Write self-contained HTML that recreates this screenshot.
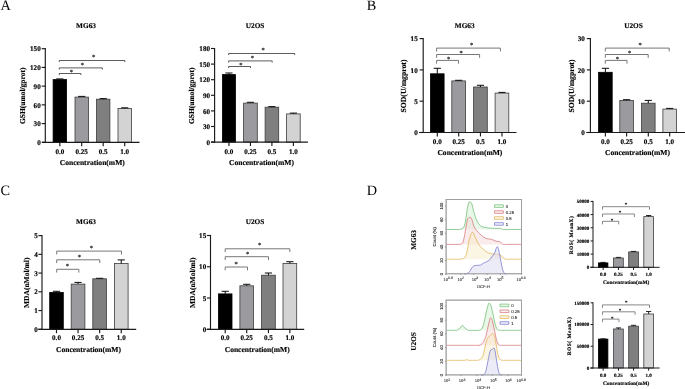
<!DOCTYPE html>
<html lang="en">
<head>
<meta charset="utf-8">
<title>Figure</title>
<style>
html,body{margin:0;padding:0;background:#fff;}
body{width:685px;height:389px;overflow:hidden;}
svg{display:block;filter:blur(0.6px);}
text{text-rendering:geometricPrecision;}
</style>
</head>
<body>
<svg width="685" height="389" viewBox="0 0 685 389">
<rect x="0" y="0" width="685" height="389" fill="#ffffff"/>
<rect x="53.10" y="79.60" width="13.50" height="62.70" fill="#000000" stroke="#000000" stroke-width="0.8"/>
<line x1="59.85" y1="79.60" x2="59.85" y2="78.90" stroke="#111" stroke-width="1.035"/>
<line x1="56.25" y1="78.90" x2="63.45" y2="78.90" stroke="#111" stroke-width="1.035"/>
<rect x="75.00" y="97.10" width="13.40" height="45.20" fill="#9b9a9f" stroke="#3c3c3c" stroke-width="0.8"/>
<line x1="81.70" y1="97.10" x2="81.70" y2="96.40" stroke="#111" stroke-width="1.035"/>
<line x1="78.10" y1="96.40" x2="85.30" y2="96.40" stroke="#111" stroke-width="1.035"/>
<rect x="96.50" y="99.20" width="13.40" height="43.10" fill="#7f7f7f" stroke="#3c3c3c" stroke-width="0.8"/>
<line x1="103.20" y1="99.20" x2="103.20" y2="98.60" stroke="#111" stroke-width="1.035"/>
<line x1="99.60" y1="98.60" x2="106.80" y2="98.60" stroke="#111" stroke-width="1.035"/>
<rect x="118.00" y="108.50" width="13.40" height="33.80" fill="#d3d3d3" stroke="#3c3c3c" stroke-width="0.8"/>
<line x1="124.70" y1="108.50" x2="124.70" y2="107.80" stroke="#111" stroke-width="1.035"/>
<line x1="121.10" y1="107.80" x2="128.30" y2="107.80" stroke="#111" stroke-width="1.035"/>
<line x1="45.30" y1="48.12" x2="45.30" y2="142.88" stroke="#1a1a1a" stroke-width="1.15"/>
<line x1="42.00" y1="142.30" x2="139.50" y2="142.30" stroke="#1a1a1a" stroke-width="1.15"/>
<line x1="41.70" y1="48.70" x2="45.30" y2="48.70" stroke="#1a1a1a" stroke-width="1.15"/>
<text x="40.70" y="51.34" font-family='"Liberation Serif", serif' font-size="7.1" font-weight="bold" text-anchor="end" fill="#000" stroke="#000" stroke-width="0.15">150</text>
<line x1="41.70" y1="67.42" x2="45.30" y2="67.42" stroke="#1a1a1a" stroke-width="1.15"/>
<text x="40.70" y="70.06" font-family='"Liberation Serif", serif' font-size="7.1" font-weight="bold" text-anchor="end" fill="#000" stroke="#000" stroke-width="0.15">120</text>
<line x1="41.70" y1="86.14" x2="45.30" y2="86.14" stroke="#1a1a1a" stroke-width="1.15"/>
<text x="40.70" y="88.78" font-family='"Liberation Serif", serif' font-size="7.1" font-weight="bold" text-anchor="end" fill="#000" stroke="#000" stroke-width="0.15">90</text>
<line x1="41.70" y1="104.86" x2="45.30" y2="104.86" stroke="#1a1a1a" stroke-width="1.15"/>
<text x="40.70" y="107.50" font-family='"Liberation Serif", serif' font-size="7.1" font-weight="bold" text-anchor="end" fill="#000" stroke="#000" stroke-width="0.15">60</text>
<line x1="41.70" y1="123.58" x2="45.30" y2="123.58" stroke="#1a1a1a" stroke-width="1.15"/>
<text x="40.70" y="126.22" font-family='"Liberation Serif", serif' font-size="7.1" font-weight="bold" text-anchor="end" fill="#000" stroke="#000" stroke-width="0.15">30</text>
<line x1="41.70" y1="142.30" x2="45.30" y2="142.30" stroke="#1a1a1a" stroke-width="1.15"/>
<text x="40.70" y="144.94" font-family='"Liberation Serif", serif' font-size="7.1" font-weight="bold" text-anchor="end" fill="#000" stroke="#000" stroke-width="0.15">0</text>
<line x1="59.85" y1="142.30" x2="59.85" y2="146.20" stroke="#1a1a1a" stroke-width="1.15"/>
<text x="59.85" y="153.70" font-family='"Liberation Serif", serif' font-size="7.1" font-weight="bold" text-anchor="middle" fill="#000" stroke="#000" stroke-width="0.15">0.0</text>
<line x1="81.70" y1="142.30" x2="81.70" y2="146.20" stroke="#1a1a1a" stroke-width="1.15"/>
<text x="81.70" y="153.70" font-family='"Liberation Serif", serif' font-size="7.1" font-weight="bold" text-anchor="middle" fill="#000" stroke="#000" stroke-width="0.15">0.25</text>
<line x1="103.20" y1="142.30" x2="103.20" y2="146.20" stroke="#1a1a1a" stroke-width="1.15"/>
<text x="103.20" y="153.70" font-family='"Liberation Serif", serif' font-size="7.1" font-weight="bold" text-anchor="middle" fill="#000" stroke="#000" stroke-width="0.15">0.5</text>
<line x1="124.70" y1="142.30" x2="124.70" y2="146.20" stroke="#1a1a1a" stroke-width="1.15"/>
<text x="124.70" y="153.70" font-family='"Liberation Serif", serif' font-size="7.1" font-weight="bold" text-anchor="middle" fill="#000" stroke="#000" stroke-width="0.15">1.0</text>
<polyline points="59.30,62.10 59.30,60.50 124.90,60.50 124.90,62.10" fill="none" stroke="#333" stroke-width="0.8"/>
<text x="93.70" y="58.92" font-family='"Liberation Serif", serif' font-size="6.5" font-weight="bold" text-anchor="middle" fill="#222" stroke="#222" stroke-width="0.1">*</text>
<polyline points="59.30,69.50 59.30,67.90 102.40,67.90 102.40,69.50" fill="none" stroke="#333" stroke-width="0.8"/>
<text x="82.40" y="67.33" font-family='"Liberation Serif", serif' font-size="6.5" font-weight="bold" text-anchor="middle" fill="#222" stroke="#222" stroke-width="0.1">*</text>
<polyline points="59.30,75.10 59.30,73.50 80.90,73.50 80.90,75.10" fill="none" stroke="#333" stroke-width="0.8"/>
<text x="71.40" y="73.72" font-family='"Liberation Serif", serif' font-size="6.5" font-weight="bold" text-anchor="middle" fill="#222" stroke="#222" stroke-width="0.1">*</text>
<text x="86.00" y="27.81" font-family='"Liberation Serif", serif' font-size="7.3" font-weight="bold" text-anchor="middle" fill="#000" stroke="#000" stroke-width="0.15">MG63</text>
<text x="92.30" y="165.30" font-family='"Liberation Serif", serif' font-size="7.55" font-weight="bold" text-anchor="middle" fill="#000" stroke="#000" stroke-width="0.15">Concentration(mM)</text>
<text x="25.30" y="95.80" font-family='"Liberation Serif", serif' font-size="7.5" font-weight="bold" text-anchor="middle" fill="#000" transform="rotate(-90 25.30 95.80)" stroke="#000" stroke-width="0.15">GSH(umol/gprot)</text>
<rect x="222.40" y="74.60" width="13.10" height="67.50" fill="#000000" stroke="#000000" stroke-width="0.8"/>
<line x1="228.95" y1="74.60" x2="228.95" y2="73.00" stroke="#111" stroke-width="1.035"/>
<line x1="225.35" y1="73.00" x2="232.55" y2="73.00" stroke="#111" stroke-width="1.035"/>
<rect x="243.60" y="103.10" width="13.70" height="39.00" fill="#9b9a9f" stroke="#3c3c3c" stroke-width="0.8"/>
<line x1="250.45" y1="103.10" x2="250.45" y2="102.30" stroke="#111" stroke-width="1.035"/>
<line x1="246.85" y1="102.30" x2="254.05" y2="102.30" stroke="#111" stroke-width="1.035"/>
<rect x="265.10" y="107.20" width="13.60" height="34.90" fill="#7f7f7f" stroke="#3c3c3c" stroke-width="0.8"/>
<line x1="271.90" y1="107.20" x2="271.90" y2="106.60" stroke="#111" stroke-width="1.035"/>
<line x1="268.30" y1="106.60" x2="275.50" y2="106.60" stroke="#111" stroke-width="1.035"/>
<rect x="286.60" y="113.90" width="13.60" height="28.20" fill="#d3d3d3" stroke="#3c3c3c" stroke-width="0.8"/>
<line x1="293.40" y1="113.90" x2="293.40" y2="113.10" stroke="#111" stroke-width="1.035"/>
<line x1="289.80" y1="113.10" x2="297.00" y2="113.10" stroke="#111" stroke-width="1.035"/>
<line x1="214.60" y1="47.92" x2="214.60" y2="142.67" stroke="#1a1a1a" stroke-width="1.15"/>
<line x1="210.90" y1="142.10" x2="307.90" y2="142.10" stroke="#1a1a1a" stroke-width="1.15"/>
<line x1="211.00" y1="48.50" x2="214.60" y2="48.50" stroke="#1a1a1a" stroke-width="1.15"/>
<text x="210.00" y="51.14" font-family='"Liberation Serif", serif' font-size="7.1" font-weight="bold" text-anchor="end" fill="#000" stroke="#000" stroke-width="0.15">180</text>
<line x1="211.00" y1="64.10" x2="214.60" y2="64.10" stroke="#1a1a1a" stroke-width="1.15"/>
<text x="210.00" y="66.74" font-family='"Liberation Serif", serif' font-size="7.1" font-weight="bold" text-anchor="end" fill="#000" stroke="#000" stroke-width="0.15">150</text>
<line x1="211.00" y1="79.70" x2="214.60" y2="79.70" stroke="#1a1a1a" stroke-width="1.15"/>
<text x="210.00" y="82.34" font-family='"Liberation Serif", serif' font-size="7.1" font-weight="bold" text-anchor="end" fill="#000" stroke="#000" stroke-width="0.15">120</text>
<line x1="211.00" y1="95.30" x2="214.60" y2="95.30" stroke="#1a1a1a" stroke-width="1.15"/>
<text x="210.00" y="97.94" font-family='"Liberation Serif", serif' font-size="7.1" font-weight="bold" text-anchor="end" fill="#000" stroke="#000" stroke-width="0.15">90</text>
<line x1="211.00" y1="110.90" x2="214.60" y2="110.90" stroke="#1a1a1a" stroke-width="1.15"/>
<text x="210.00" y="113.54" font-family='"Liberation Serif", serif' font-size="7.1" font-weight="bold" text-anchor="end" fill="#000" stroke="#000" stroke-width="0.15">60</text>
<line x1="211.00" y1="126.50" x2="214.60" y2="126.50" stroke="#1a1a1a" stroke-width="1.15"/>
<text x="210.00" y="129.14" font-family='"Liberation Serif", serif' font-size="7.1" font-weight="bold" text-anchor="end" fill="#000" stroke="#000" stroke-width="0.15">30</text>
<line x1="211.00" y1="142.10" x2="214.60" y2="142.10" stroke="#1a1a1a" stroke-width="1.15"/>
<text x="210.00" y="144.74" font-family='"Liberation Serif", serif' font-size="7.1" font-weight="bold" text-anchor="end" fill="#000" stroke="#000" stroke-width="0.15">0</text>
<line x1="228.95" y1="142.10" x2="228.95" y2="146.00" stroke="#1a1a1a" stroke-width="1.15"/>
<text x="228.95" y="153.50" font-family='"Liberation Serif", serif' font-size="7.1" font-weight="bold" text-anchor="middle" fill="#000" stroke="#000" stroke-width="0.15">0.0</text>
<line x1="250.45" y1="142.10" x2="250.45" y2="146.00" stroke="#1a1a1a" stroke-width="1.15"/>
<text x="250.45" y="153.50" font-family='"Liberation Serif", serif' font-size="7.1" font-weight="bold" text-anchor="middle" fill="#000" stroke="#000" stroke-width="0.15">0.25</text>
<line x1="271.90" y1="142.10" x2="271.90" y2="146.00" stroke="#1a1a1a" stroke-width="1.15"/>
<text x="271.90" y="153.50" font-family='"Liberation Serif", serif' font-size="7.1" font-weight="bold" text-anchor="middle" fill="#000" stroke="#000" stroke-width="0.15">0.5</text>
<line x1="293.40" y1="142.10" x2="293.40" y2="146.00" stroke="#1a1a1a" stroke-width="1.15"/>
<text x="293.40" y="153.50" font-family='"Liberation Serif", serif' font-size="7.1" font-weight="bold" text-anchor="middle" fill="#000" stroke="#000" stroke-width="0.15">1.0</text>
<polyline points="228.60,55.10 228.60,53.50 294.70,53.50 294.70,55.10" fill="none" stroke="#333" stroke-width="0.8"/>
<text x="263.20" y="52.32" font-family='"Liberation Serif", serif' font-size="6.5" font-weight="bold" text-anchor="middle" fill="#222" stroke="#222" stroke-width="0.1">*</text>
<polyline points="228.60,62.50 228.60,60.90 272.20,60.90 272.20,62.50" fill="none" stroke="#333" stroke-width="0.8"/>
<text x="252.30" y="59.92" font-family='"Liberation Serif", serif' font-size="6.5" font-weight="bold" text-anchor="middle" fill="#222" stroke="#222" stroke-width="0.1">*</text>
<polyline points="228.60,68.10 228.60,66.50 250.50,66.50 250.50,68.10" fill="none" stroke="#333" stroke-width="0.8"/>
<text x="240.90" y="66.53" font-family='"Liberation Serif", serif' font-size="6.5" font-weight="bold" text-anchor="middle" fill="#222" stroke="#222" stroke-width="0.1">*</text>
<text x="255.10" y="27.91" font-family='"Liberation Serif", serif' font-size="7.3" font-weight="bold" text-anchor="middle" fill="#000" stroke="#000" stroke-width="0.15">U2OS</text>
<text x="261.50" y="165.10" font-family='"Liberation Serif", serif' font-size="7.55" font-weight="bold" text-anchor="middle" fill="#000" stroke="#000" stroke-width="0.15">Concentration(mM)</text>
<text x="194.30" y="95.80" font-family='"Liberation Serif", serif' font-size="7.5" font-weight="bold" text-anchor="middle" fill="#000" transform="rotate(-90 194.30 95.80)" stroke="#000" stroke-width="0.15">GSH(umol/gprot)</text>
<rect x="430.50" y="73.80" width="13.60" height="58.70" fill="#000000" stroke="#000000" stroke-width="0.8"/>
<line x1="437.30" y1="73.80" x2="437.30" y2="68.30" stroke="#111" stroke-width="1.035"/>
<line x1="433.70" y1="68.30" x2="440.90" y2="68.30" stroke="#111" stroke-width="1.035"/>
<rect x="451.80" y="80.90" width="13.80" height="51.60" fill="#9b9a9f" stroke="#3c3c3c" stroke-width="0.8"/>
<line x1="458.70" y1="80.90" x2="458.70" y2="80.30" stroke="#111" stroke-width="1.035"/>
<line x1="455.10" y1="80.30" x2="462.30" y2="80.30" stroke="#111" stroke-width="1.035"/>
<rect x="473.60" y="87.00" width="13.70" height="45.50" fill="#7f7f7f" stroke="#3c3c3c" stroke-width="0.8"/>
<line x1="480.45" y1="87.00" x2="480.45" y2="85.30" stroke="#111" stroke-width="1.035"/>
<line x1="476.85" y1="85.30" x2="484.05" y2="85.30" stroke="#111" stroke-width="1.035"/>
<rect x="495.10" y="93.10" width="13.70" height="39.40" fill="#d3d3d3" stroke="#3c3c3c" stroke-width="0.8"/>
<line x1="501.95" y1="93.10" x2="501.95" y2="92.40" stroke="#111" stroke-width="1.035"/>
<line x1="498.35" y1="92.40" x2="505.55" y2="92.40" stroke="#111" stroke-width="1.035"/>
<line x1="423.20" y1="38.02" x2="423.20" y2="133.07" stroke="#1a1a1a" stroke-width="1.15"/>
<line x1="419.10" y1="132.50" x2="516.50" y2="132.50" stroke="#1a1a1a" stroke-width="1.15"/>
<line x1="419.60" y1="38.60" x2="423.20" y2="38.60" stroke="#1a1a1a" stroke-width="1.15"/>
<text x="417.70" y="41.24" font-family='"Liberation Serif", serif' font-size="7.1" font-weight="bold" text-anchor="end" fill="#000" stroke="#000" stroke-width="0.15">15</text>
<line x1="419.60" y1="69.90" x2="423.20" y2="69.90" stroke="#1a1a1a" stroke-width="1.15"/>
<text x="417.70" y="72.54" font-family='"Liberation Serif", serif' font-size="7.1" font-weight="bold" text-anchor="end" fill="#000" stroke="#000" stroke-width="0.15">10</text>
<line x1="419.60" y1="101.20" x2="423.20" y2="101.20" stroke="#1a1a1a" stroke-width="1.15"/>
<text x="417.70" y="103.84" font-family='"Liberation Serif", serif' font-size="7.1" font-weight="bold" text-anchor="end" fill="#000" stroke="#000" stroke-width="0.15">5</text>
<line x1="419.60" y1="132.50" x2="423.20" y2="132.50" stroke="#1a1a1a" stroke-width="1.15"/>
<text x="417.70" y="135.14" font-family='"Liberation Serif", serif' font-size="7.1" font-weight="bold" text-anchor="end" fill="#000" stroke="#000" stroke-width="0.15">0</text>
<line x1="437.30" y1="132.50" x2="437.30" y2="136.40" stroke="#1a1a1a" stroke-width="1.15"/>
<text x="437.30" y="143.50" font-family='"Liberation Serif", serif' font-size="7.1" font-weight="bold" text-anchor="middle" fill="#000" stroke="#000" stroke-width="0.15">0.0</text>
<line x1="458.70" y1="132.50" x2="458.70" y2="136.40" stroke="#1a1a1a" stroke-width="1.15"/>
<text x="458.70" y="143.50" font-family='"Liberation Serif", serif' font-size="7.1" font-weight="bold" text-anchor="middle" fill="#000" stroke="#000" stroke-width="0.15">0.25</text>
<line x1="480.45" y1="132.50" x2="480.45" y2="136.40" stroke="#1a1a1a" stroke-width="1.15"/>
<text x="480.45" y="143.50" font-family='"Liberation Serif", serif' font-size="7.1" font-weight="bold" text-anchor="middle" fill="#000" stroke="#000" stroke-width="0.15">0.5</text>
<line x1="501.95" y1="132.50" x2="501.95" y2="136.40" stroke="#1a1a1a" stroke-width="1.15"/>
<text x="501.95" y="143.50" font-family='"Liberation Serif", serif' font-size="7.1" font-weight="bold" text-anchor="middle" fill="#000" stroke="#000" stroke-width="0.15">1.0</text>
<polyline points="436.60,51.40 436.60,48.10 500.40,48.10 500.40,51.40" fill="none" stroke="#707070" stroke-width="0.95"/>
<text x="471.70" y="46.62" font-family='"Liberation Serif", serif' font-size="6.5" font-weight="bold" text-anchor="middle" fill="#222" stroke="#222" stroke-width="0.1">*</text>
<polyline points="436.60,57.80 436.60,54.50 479.60,54.50 479.60,57.80" fill="none" stroke="#707070" stroke-width="0.95"/>
<text x="461.20" y="54.52" font-family='"Liberation Serif", serif' font-size="6.5" font-weight="bold" text-anchor="middle" fill="#222" stroke="#222" stroke-width="0.1">*</text>
<polyline points="436.60,63.70 436.60,60.40 458.50,60.40 458.50,63.70" fill="none" stroke="#707070" stroke-width="0.95"/>
<text x="448.70" y="60.92" font-family='"Liberation Serif", serif' font-size="6.5" font-weight="bold" text-anchor="middle" fill="#222" stroke="#222" stroke-width="0.1">*</text>
<text x="464.70" y="27.81" font-family='"Liberation Serif", serif' font-size="7.3" font-weight="bold" text-anchor="middle" fill="#000" stroke="#000" stroke-width="0.15">MG63</text>
<text x="469.90" y="155.10" font-family='"Liberation Serif", serif' font-size="7.55" font-weight="bold" text-anchor="middle" fill="#000" stroke="#000" stroke-width="0.15">Concentration(mM)</text>
<text x="406.00" y="86.00" font-family='"Liberation Serif", serif' font-size="7.72" font-weight="bold" text-anchor="middle" fill="#000" transform="rotate(-90 406.00 86.00)" stroke="#000" stroke-width="0.15">SOD(U/mgprot)</text>
<rect x="598.60" y="72.30" width="13.60" height="60.20" fill="#000000" stroke="#000000" stroke-width="0.8"/>
<line x1="605.40" y1="72.30" x2="605.40" y2="68.30" stroke="#111" stroke-width="1.035"/>
<line x1="601.80" y1="68.30" x2="609.00" y2="68.30" stroke="#111" stroke-width="1.035"/>
<rect x="619.80" y="100.40" width="13.60" height="32.10" fill="#9b9a9f" stroke="#3c3c3c" stroke-width="0.8"/>
<line x1="626.60" y1="100.40" x2="626.60" y2="99.70" stroke="#111" stroke-width="1.035"/>
<line x1="623.00" y1="99.70" x2="630.20" y2="99.70" stroke="#111" stroke-width="1.035"/>
<rect x="641.50" y="103.20" width="13.60" height="29.30" fill="#7f7f7f" stroke="#3c3c3c" stroke-width="0.8"/>
<line x1="648.30" y1="103.20" x2="648.30" y2="100.40" stroke="#111" stroke-width="1.035"/>
<line x1="644.70" y1="100.40" x2="651.90" y2="100.40" stroke="#111" stroke-width="1.035"/>
<rect x="662.90" y="109.10" width="13.60" height="23.40" fill="#d3d3d3" stroke="#3c3c3c" stroke-width="0.8"/>
<line x1="669.70" y1="109.10" x2="669.70" y2="108.40" stroke="#111" stroke-width="1.035"/>
<line x1="666.10" y1="108.40" x2="673.30" y2="108.40" stroke="#111" stroke-width="1.035"/>
<line x1="590.40" y1="38.02" x2="590.40" y2="133.07" stroke="#1a1a1a" stroke-width="1.15"/>
<line x1="586.30" y1="132.50" x2="685.50" y2="132.50" stroke="#1a1a1a" stroke-width="1.15"/>
<line x1="586.80" y1="38.60" x2="590.40" y2="38.60" stroke="#1a1a1a" stroke-width="1.15"/>
<text x="584.90" y="41.24" font-family='"Liberation Serif", serif' font-size="7.1" font-weight="bold" text-anchor="end" fill="#000" stroke="#000" stroke-width="0.15">30</text>
<line x1="586.80" y1="69.90" x2="590.40" y2="69.90" stroke="#1a1a1a" stroke-width="1.15"/>
<text x="584.90" y="72.54" font-family='"Liberation Serif", serif' font-size="7.1" font-weight="bold" text-anchor="end" fill="#000" stroke="#000" stroke-width="0.15">20</text>
<line x1="586.80" y1="101.20" x2="590.40" y2="101.20" stroke="#1a1a1a" stroke-width="1.15"/>
<text x="584.90" y="103.84" font-family='"Liberation Serif", serif' font-size="7.1" font-weight="bold" text-anchor="end" fill="#000" stroke="#000" stroke-width="0.15">10</text>
<line x1="586.80" y1="132.50" x2="590.40" y2="132.50" stroke="#1a1a1a" stroke-width="1.15"/>
<text x="584.90" y="135.14" font-family='"Liberation Serif", serif' font-size="7.1" font-weight="bold" text-anchor="end" fill="#000" stroke="#000" stroke-width="0.15">0</text>
<line x1="605.40" y1="132.50" x2="605.40" y2="136.40" stroke="#1a1a1a" stroke-width="1.15"/>
<text x="605.40" y="143.50" font-family='"Liberation Serif", serif' font-size="7.1" font-weight="bold" text-anchor="middle" fill="#000" stroke="#000" stroke-width="0.15">0.0</text>
<line x1="626.60" y1="132.50" x2="626.60" y2="136.40" stroke="#1a1a1a" stroke-width="1.15"/>
<text x="626.60" y="143.50" font-family='"Liberation Serif", serif' font-size="7.1" font-weight="bold" text-anchor="middle" fill="#000" stroke="#000" stroke-width="0.15">0.25</text>
<line x1="648.30" y1="132.50" x2="648.30" y2="136.40" stroke="#1a1a1a" stroke-width="1.15"/>
<text x="648.30" y="143.50" font-family='"Liberation Serif", serif' font-size="7.1" font-weight="bold" text-anchor="middle" fill="#000" stroke="#000" stroke-width="0.15">0.5</text>
<line x1="669.70" y1="132.50" x2="669.70" y2="136.40" stroke="#1a1a1a" stroke-width="1.15"/>
<text x="669.70" y="143.50" font-family='"Liberation Serif", serif' font-size="7.1" font-weight="bold" text-anchor="middle" fill="#000" stroke="#000" stroke-width="0.15">1.0</text>
<polyline points="605.30,51.40 605.30,48.10 669.20,48.10 669.20,51.40" fill="none" stroke="#707070" stroke-width="0.95"/>
<text x="640.10" y="46.62" font-family='"Liberation Serif", serif' font-size="6.5" font-weight="bold" text-anchor="middle" fill="#222" stroke="#222" stroke-width="0.1">*</text>
<polyline points="605.30,57.80 605.30,54.50 648.20,54.50 648.20,57.80" fill="none" stroke="#707070" stroke-width="0.95"/>
<text x="629.60" y="54.52" font-family='"Liberation Serif", serif' font-size="6.5" font-weight="bold" text-anchor="middle" fill="#222" stroke="#222" stroke-width="0.1">*</text>
<polyline points="605.30,63.70 605.30,60.40 627.00,60.40 627.00,63.70" fill="none" stroke="#707070" stroke-width="0.95"/>
<text x="617.30" y="60.92" font-family='"Liberation Serif", serif' font-size="6.5" font-weight="bold" text-anchor="middle" fill="#222" stroke="#222" stroke-width="0.1">*</text>
<text x="633.50" y="27.81" font-family='"Liberation Serif", serif' font-size="7.3" font-weight="bold" text-anchor="middle" fill="#000" stroke="#000" stroke-width="0.15">U2OS</text>
<text x="637.50" y="155.10" font-family='"Liberation Serif", serif' font-size="7.55" font-weight="bold" text-anchor="middle" fill="#000" stroke="#000" stroke-width="0.15">Concentration(mM)</text>
<text x="574.00" y="86.00" font-family='"Liberation Serif", serif' font-size="7.72" font-weight="bold" text-anchor="middle" fill="#000" transform="rotate(-90 574.00 86.00)" stroke="#000" stroke-width="0.15">SOD(U/mgprot)</text>
<rect x="49.70" y="292.40" width="13.60" height="36.90" fill="#000000" stroke="#000000" stroke-width="0.8"/>
<line x1="56.50" y1="292.40" x2="56.50" y2="291.30" stroke="#111" stroke-width="1.035"/>
<line x1="52.90" y1="291.30" x2="60.10" y2="291.30" stroke="#111" stroke-width="1.035"/>
<rect x="71.20" y="284.10" width="13.70" height="45.20" fill="#9b9a9f" stroke="#3c3c3c" stroke-width="0.8"/>
<line x1="78.05" y1="284.10" x2="78.05" y2="282.40" stroke="#111" stroke-width="1.035"/>
<line x1="74.45" y1="282.40" x2="81.65" y2="282.40" stroke="#111" stroke-width="1.035"/>
<rect x="92.80" y="278.80" width="13.70" height="50.50" fill="#7f7f7f" stroke="#3c3c3c" stroke-width="0.8"/>
<line x1="99.65" y1="278.80" x2="99.65" y2="278.30" stroke="#111" stroke-width="1.035"/>
<line x1="96.05" y1="278.30" x2="103.25" y2="278.30" stroke="#111" stroke-width="1.035"/>
<rect x="114.40" y="263.40" width="13.70" height="65.90" fill="#d3d3d3" stroke="#3c3c3c" stroke-width="0.8"/>
<line x1="121.25" y1="263.40" x2="121.25" y2="259.90" stroke="#111" stroke-width="1.035"/>
<line x1="117.65" y1="259.90" x2="124.85" y2="259.90" stroke="#111" stroke-width="1.035"/>
<line x1="42.00" y1="235.03" x2="42.00" y2="329.88" stroke="#1a1a1a" stroke-width="1.15"/>
<line x1="38.30" y1="329.30" x2="136.20" y2="329.30" stroke="#1a1a1a" stroke-width="1.15"/>
<line x1="38.40" y1="235.60" x2="42.00" y2="235.60" stroke="#1a1a1a" stroke-width="1.15"/>
<text x="37.70" y="238.24" font-family='"Liberation Serif", serif' font-size="7.1" font-weight="bold" text-anchor="end" fill="#000" stroke="#000" stroke-width="0.15">5</text>
<line x1="38.40" y1="254.34" x2="42.00" y2="254.34" stroke="#1a1a1a" stroke-width="1.15"/>
<text x="37.70" y="256.98" font-family='"Liberation Serif", serif' font-size="7.1" font-weight="bold" text-anchor="end" fill="#000" stroke="#000" stroke-width="0.15">4</text>
<line x1="38.40" y1="273.08" x2="42.00" y2="273.08" stroke="#1a1a1a" stroke-width="1.15"/>
<text x="37.70" y="275.72" font-family='"Liberation Serif", serif' font-size="7.1" font-weight="bold" text-anchor="end" fill="#000" stroke="#000" stroke-width="0.15">3</text>
<line x1="38.40" y1="291.82" x2="42.00" y2="291.82" stroke="#1a1a1a" stroke-width="1.15"/>
<text x="37.70" y="294.46" font-family='"Liberation Serif", serif' font-size="7.1" font-weight="bold" text-anchor="end" fill="#000" stroke="#000" stroke-width="0.15">2</text>
<line x1="38.40" y1="310.56" x2="42.00" y2="310.56" stroke="#1a1a1a" stroke-width="1.15"/>
<text x="37.70" y="313.20" font-family='"Liberation Serif", serif' font-size="7.1" font-weight="bold" text-anchor="end" fill="#000" stroke="#000" stroke-width="0.15">1</text>
<line x1="38.40" y1="329.30" x2="42.00" y2="329.30" stroke="#1a1a1a" stroke-width="1.15"/>
<text x="37.70" y="331.94" font-family='"Liberation Serif", serif' font-size="7.1" font-weight="bold" text-anchor="end" fill="#000" stroke="#000" stroke-width="0.15">0</text>
<line x1="56.50" y1="329.30" x2="56.50" y2="333.20" stroke="#1a1a1a" stroke-width="1.15"/>
<text x="56.50" y="340.00" font-family='"Liberation Serif", serif' font-size="7.1" font-weight="bold" text-anchor="middle" fill="#000" stroke="#000" stroke-width="0.15">0.0</text>
<line x1="78.05" y1="329.30" x2="78.05" y2="333.20" stroke="#1a1a1a" stroke-width="1.15"/>
<text x="78.05" y="340.00" font-family='"Liberation Serif", serif' font-size="7.1" font-weight="bold" text-anchor="middle" fill="#000" stroke="#000" stroke-width="0.15">0.25</text>
<line x1="99.65" y1="329.30" x2="99.65" y2="333.20" stroke="#1a1a1a" stroke-width="1.15"/>
<text x="99.65" y="340.00" font-family='"Liberation Serif", serif' font-size="7.1" font-weight="bold" text-anchor="middle" fill="#000" stroke="#000" stroke-width="0.15">0.5</text>
<line x1="121.25" y1="329.30" x2="121.25" y2="333.20" stroke="#1a1a1a" stroke-width="1.15"/>
<text x="121.25" y="340.00" font-family='"Liberation Serif", serif' font-size="7.1" font-weight="bold" text-anchor="middle" fill="#000" stroke="#000" stroke-width="0.15">1.0</text>
<polyline points="56.70,254.40 56.70,251.10 121.50,251.10 121.50,254.40" fill="none" stroke="#707070" stroke-width="0.95"/>
<text x="91.30" y="249.93" font-family='"Liberation Serif", serif' font-size="6.5" font-weight="bold" text-anchor="middle" fill="#222" stroke="#222" stroke-width="0.1">*</text>
<polyline points="56.70,263.10 56.70,259.80 99.80,259.80 99.80,263.10" fill="none" stroke="#707070" stroke-width="0.95"/>
<text x="79.30" y="258.62" font-family='"Liberation Serif", serif' font-size="6.5" font-weight="bold" text-anchor="middle" fill="#222" stroke="#222" stroke-width="0.1">*</text>
<polyline points="56.70,272.60 56.70,269.30 78.80,269.30 78.80,272.60" fill="none" stroke="#707070" stroke-width="0.95"/>
<text x="67.40" y="268.03" font-family='"Liberation Serif", serif' font-size="6.5" font-weight="bold" text-anchor="middle" fill="#222" stroke="#222" stroke-width="0.1">*</text>
<text x="86.00" y="223.71" font-family='"Liberation Serif", serif' font-size="7.3" font-weight="bold" text-anchor="middle" fill="#000" stroke="#000" stroke-width="0.15">MG63</text>
<text x="88.50" y="352.00" font-family='"Liberation Serif", serif' font-size="7.55" font-weight="bold" text-anchor="middle" fill="#000" stroke="#000" stroke-width="0.15">Concentration(mM)</text>
<text x="29.00" y="282.80" font-family='"Liberation Serif", serif' font-size="7.5" font-weight="bold" text-anchor="middle" fill="#000" transform="rotate(-90 29.00 282.80)" stroke="#000" stroke-width="0.15">MDA(nMol/ml)</text>
<rect x="218.40" y="293.90" width="13.60" height="35.40" fill="#000000" stroke="#000000" stroke-width="0.8"/>
<line x1="225.20" y1="293.90" x2="225.20" y2="291.30" stroke="#111" stroke-width="1.035"/>
<line x1="221.60" y1="291.30" x2="228.80" y2="291.30" stroke="#111" stroke-width="1.035"/>
<rect x="239.90" y="285.80" width="13.60" height="43.50" fill="#9b9a9f" stroke="#3c3c3c" stroke-width="0.8"/>
<line x1="246.70" y1="285.80" x2="246.70" y2="284.30" stroke="#111" stroke-width="1.035"/>
<line x1="243.10" y1="284.30" x2="250.30" y2="284.30" stroke="#111" stroke-width="1.035"/>
<rect x="261.60" y="275.20" width="13.70" height="54.10" fill="#7f7f7f" stroke="#3c3c3c" stroke-width="0.8"/>
<line x1="268.45" y1="275.20" x2="268.45" y2="273.00" stroke="#111" stroke-width="1.035"/>
<line x1="264.85" y1="273.00" x2="272.05" y2="273.00" stroke="#111" stroke-width="1.035"/>
<rect x="283.00" y="263.50" width="13.70" height="65.80" fill="#d3d3d3" stroke="#3c3c3c" stroke-width="0.8"/>
<line x1="289.85" y1="263.50" x2="289.85" y2="261.70" stroke="#111" stroke-width="1.035"/>
<line x1="286.25" y1="261.70" x2="293.45" y2="261.70" stroke="#111" stroke-width="1.035"/>
<line x1="210.50" y1="234.93" x2="210.50" y2="329.88" stroke="#1a1a1a" stroke-width="1.15"/>
<line x1="206.60" y1="329.30" x2="304.20" y2="329.30" stroke="#1a1a1a" stroke-width="1.15"/>
<line x1="206.90" y1="235.50" x2="210.50" y2="235.50" stroke="#1a1a1a" stroke-width="1.15"/>
<text x="206.20" y="238.14" font-family='"Liberation Serif", serif' font-size="7.1" font-weight="bold" text-anchor="end" fill="#000" stroke="#000" stroke-width="0.15">15</text>
<line x1="206.90" y1="266.77" x2="210.50" y2="266.77" stroke="#1a1a1a" stroke-width="1.15"/>
<text x="206.20" y="269.41" font-family='"Liberation Serif", serif' font-size="7.1" font-weight="bold" text-anchor="end" fill="#000" stroke="#000" stroke-width="0.15">10</text>
<line x1="206.90" y1="298.03" x2="210.50" y2="298.03" stroke="#1a1a1a" stroke-width="1.15"/>
<text x="206.20" y="300.68" font-family='"Liberation Serif", serif' font-size="7.1" font-weight="bold" text-anchor="end" fill="#000" stroke="#000" stroke-width="0.15">5</text>
<line x1="206.90" y1="329.30" x2="210.50" y2="329.30" stroke="#1a1a1a" stroke-width="1.15"/>
<text x="206.20" y="331.94" font-family='"Liberation Serif", serif' font-size="7.1" font-weight="bold" text-anchor="end" fill="#000" stroke="#000" stroke-width="0.15">0</text>
<line x1="225.20" y1="329.30" x2="225.20" y2="333.20" stroke="#1a1a1a" stroke-width="1.15"/>
<text x="225.20" y="340.00" font-family='"Liberation Serif", serif' font-size="7.1" font-weight="bold" text-anchor="middle" fill="#000" stroke="#000" stroke-width="0.15">0.0</text>
<line x1="246.70" y1="329.30" x2="246.70" y2="333.20" stroke="#1a1a1a" stroke-width="1.15"/>
<text x="246.70" y="340.00" font-family='"Liberation Serif", serif' font-size="7.1" font-weight="bold" text-anchor="middle" fill="#000" stroke="#000" stroke-width="0.15">0.25</text>
<line x1="268.45" y1="329.30" x2="268.45" y2="333.20" stroke="#1a1a1a" stroke-width="1.15"/>
<text x="268.45" y="340.00" font-family='"Liberation Serif", serif' font-size="7.1" font-weight="bold" text-anchor="middle" fill="#000" stroke="#000" stroke-width="0.15">0.5</text>
<line x1="289.85" y1="329.30" x2="289.85" y2="333.20" stroke="#1a1a1a" stroke-width="1.15"/>
<text x="289.85" y="340.00" font-family='"Liberation Serif", serif' font-size="7.1" font-weight="bold" text-anchor="middle" fill="#000" stroke="#000" stroke-width="0.15">1.0</text>
<polyline points="225.20,252.10 225.20,248.80 289.80,248.80 289.80,252.10" fill="none" stroke="#707070" stroke-width="0.95"/>
<text x="259.60" y="247.12" font-family='"Liberation Serif", serif' font-size="6.5" font-weight="bold" text-anchor="middle" fill="#222" stroke="#222" stroke-width="0.1">*</text>
<polyline points="225.20,260.00 225.20,256.70 268.50,256.70 268.50,260.00" fill="none" stroke="#707070" stroke-width="0.95"/>
<text x="247.50" y="256.12" font-family='"Liberation Serif", serif' font-size="6.5" font-weight="bold" text-anchor="middle" fill="#222" stroke="#222" stroke-width="0.1">*</text>
<polyline points="225.20,270.30 225.20,267.00 247.50,267.00 247.50,270.30" fill="none" stroke="#707070" stroke-width="0.95"/>
<text x="236.10" y="265.53" font-family='"Liberation Serif", serif' font-size="6.5" font-weight="bold" text-anchor="middle" fill="#222" stroke="#222" stroke-width="0.1">*</text>
<text x="255.00" y="223.81" font-family='"Liberation Serif", serif' font-size="7.3" font-weight="bold" text-anchor="middle" fill="#000" stroke="#000" stroke-width="0.15">U2OS</text>
<text x="257.20" y="352.00" font-family='"Liberation Serif", serif' font-size="7.55" font-weight="bold" text-anchor="middle" fill="#000" stroke="#000" stroke-width="0.15">Concentration(mM)</text>
<text x="195.30" y="282.80" font-family='"Liberation Serif", serif' font-size="7.5" font-weight="bold" text-anchor="middle" fill="#000" transform="rotate(-90 195.30 282.80)" stroke="#000" stroke-width="0.15">MDA(nMol/ml)</text>
<rect x="598.40" y="262.90" width="9.50" height="4.40" fill="#000000" stroke="#000000" stroke-width="0.8"/>
<line x1="603.15" y1="262.90" x2="603.15" y2="262.40" stroke="#111" stroke-width="0.9"/>
<line x1="600.55" y1="262.40" x2="605.75" y2="262.40" stroke="#111" stroke-width="0.9"/>
<rect x="613.60" y="258.00" width="9.70" height="9.30" fill="#9b9a9f" stroke="#3c3c3c" stroke-width="0.8"/>
<line x1="618.45" y1="258.00" x2="618.45" y2="257.40" stroke="#111" stroke-width="0.9"/>
<line x1="615.85" y1="257.40" x2="621.05" y2="257.40" stroke="#111" stroke-width="0.9"/>
<rect x="628.70" y="251.90" width="9.70" height="15.40" fill="#7f7f7f" stroke="#3c3c3c" stroke-width="0.8"/>
<line x1="633.55" y1="251.90" x2="633.55" y2="251.40" stroke="#111" stroke-width="0.9"/>
<line x1="630.95" y1="251.40" x2="636.15" y2="251.40" stroke="#111" stroke-width="0.9"/>
<rect x="643.80" y="216.60" width="9.70" height="50.70" fill="#d3d3d3" stroke="#3c3c3c" stroke-width="0.8"/>
<line x1="648.65" y1="216.60" x2="648.65" y2="215.50" stroke="#111" stroke-width="0.9"/>
<line x1="646.05" y1="215.50" x2="651.25" y2="215.50" stroke="#111" stroke-width="0.9"/>
<line x1="593.00" y1="200.90" x2="593.00" y2="267.80" stroke="#1a1a1a" stroke-width="1.0"/>
<line x1="590.20" y1="267.30" x2="659.60" y2="267.30" stroke="#1a1a1a" stroke-width="1.0"/>
<line x1="590.60" y1="201.40" x2="593.00" y2="201.40" stroke="#1a1a1a" stroke-width="1.0"/>
<text x="589.30" y="203.35" font-family='"Liberation Serif", serif' font-size="5.0" font-weight="bold" text-anchor="end" fill="#000" stroke="#000" stroke-width="0.15">50000</text>
<line x1="590.60" y1="214.58" x2="593.00" y2="214.58" stroke="#1a1a1a" stroke-width="1.0"/>
<text x="589.30" y="216.53" font-family='"Liberation Serif", serif' font-size="5.0" font-weight="bold" text-anchor="end" fill="#000" stroke="#000" stroke-width="0.15">40000</text>
<line x1="590.60" y1="227.76" x2="593.00" y2="227.76" stroke="#1a1a1a" stroke-width="1.0"/>
<text x="589.30" y="229.71" font-family='"Liberation Serif", serif' font-size="5.0" font-weight="bold" text-anchor="end" fill="#000" stroke="#000" stroke-width="0.15">30000</text>
<line x1="590.60" y1="240.94" x2="593.00" y2="240.94" stroke="#1a1a1a" stroke-width="1.0"/>
<text x="589.30" y="242.89" font-family='"Liberation Serif", serif' font-size="5.0" font-weight="bold" text-anchor="end" fill="#000" stroke="#000" stroke-width="0.15">20000</text>
<line x1="590.60" y1="254.12" x2="593.00" y2="254.12" stroke="#1a1a1a" stroke-width="1.0"/>
<text x="589.30" y="256.07" font-family='"Liberation Serif", serif' font-size="5.0" font-weight="bold" text-anchor="end" fill="#000" stroke="#000" stroke-width="0.15">10000</text>
<line x1="590.60" y1="267.30" x2="593.00" y2="267.30" stroke="#1a1a1a" stroke-width="1.0"/>
<text x="589.30" y="269.25" font-family='"Liberation Serif", serif' font-size="5.0" font-weight="bold" text-anchor="end" fill="#000" stroke="#000" stroke-width="0.15">0</text>
<line x1="603.15" y1="267.30" x2="603.15" y2="270.00" stroke="#1a1a1a" stroke-width="1.0"/>
<text x="603.15" y="275.60" font-family='"Liberation Serif", serif' font-size="5.0" font-weight="bold" text-anchor="middle" fill="#000" stroke="#000" stroke-width="0.15">0.0</text>
<line x1="618.45" y1="267.30" x2="618.45" y2="270.00" stroke="#1a1a1a" stroke-width="1.0"/>
<text x="618.45" y="275.60" font-family='"Liberation Serif", serif' font-size="5.0" font-weight="bold" text-anchor="middle" fill="#000" stroke="#000" stroke-width="0.15">0.25</text>
<line x1="633.55" y1="267.30" x2="633.55" y2="270.00" stroke="#1a1a1a" stroke-width="1.0"/>
<text x="633.55" y="275.60" font-family='"Liberation Serif", serif' font-size="5.0" font-weight="bold" text-anchor="middle" fill="#000" stroke="#000" stroke-width="0.15">0.5</text>
<line x1="648.65" y1="267.30" x2="648.65" y2="270.00" stroke="#1a1a1a" stroke-width="1.0"/>
<text x="648.65" y="275.60" font-family='"Liberation Serif", serif' font-size="5.0" font-weight="bold" text-anchor="middle" fill="#000" stroke="#000" stroke-width="0.15">1.0</text>
<polyline points="602.50,209.70 602.50,206.70 649.50,206.70 649.50,209.70" fill="none" stroke="#6a6a6a" stroke-width="0.8"/>
<text x="626.10" y="205.95" font-family='"Liberation Serif", serif' font-size="5" font-weight="bold" text-anchor="middle" fill="#222" stroke="#222" stroke-width="0.1">*</text>
<polyline points="602.50,217.00 602.50,214.00 634.40,214.00 634.40,217.00" fill="none" stroke="#6a6a6a" stroke-width="0.8"/>
<text x="620.00" y="213.75" font-family='"Liberation Serif", serif' font-size="5" font-weight="bold" text-anchor="middle" fill="#222" stroke="#222" stroke-width="0.1">*</text>
<polyline points="602.50,224.30 602.50,221.30 618.70,221.30 618.70,224.30" fill="none" stroke="#6a6a6a" stroke-width="0.8"/>
<text x="611.90" y="221.65" font-family='"Liberation Serif", serif' font-size="5" font-weight="bold" text-anchor="middle" fill="#222" stroke="#222" stroke-width="0.1">*</text>
<text x="626.10" y="284.00" font-family='"Liberation Serif", serif' font-size="5.4" font-weight="bold" text-anchor="middle" fill="#000" stroke="#000" stroke-width="0.15">Concentration(mM)</text>
<text x="573.40" y="235.00" font-family='"Liberation Serif", serif' font-size="5.4" font-weight="bold" text-anchor="middle" fill="#000" transform="rotate(-90 573.40 235.00)" letter-spacing="0.5" stroke="#000" stroke-width="0.15">ROS( MeanX)</text>
<rect x="598.40" y="339.10" width="9.50" height="28.90" fill="#000000" stroke="#000000" stroke-width="0.8"/>
<line x1="603.15" y1="339.10" x2="603.15" y2="338.80" stroke="#111" stroke-width="0.9"/>
<line x1="600.55" y1="338.80" x2="605.75" y2="338.80" stroke="#111" stroke-width="0.9"/>
<rect x="613.60" y="329.00" width="9.70" height="39.00" fill="#9b9a9f" stroke="#3c3c3c" stroke-width="0.8"/>
<line x1="618.45" y1="329.00" x2="618.45" y2="327.90" stroke="#111" stroke-width="0.9"/>
<line x1="615.85" y1="327.90" x2="621.05" y2="327.90" stroke="#111" stroke-width="0.9"/>
<rect x="628.70" y="326.20" width="9.70" height="41.80" fill="#7f7f7f" stroke="#3c3c3c" stroke-width="0.8"/>
<line x1="633.55" y1="326.20" x2="633.55" y2="325.30" stroke="#111" stroke-width="0.9"/>
<line x1="630.95" y1="325.30" x2="636.15" y2="325.30" stroke="#111" stroke-width="0.9"/>
<rect x="643.80" y="314.00" width="9.70" height="54.00" fill="#d3d3d3" stroke="#3c3c3c" stroke-width="0.8"/>
<line x1="648.65" y1="314.00" x2="648.65" y2="311.50" stroke="#111" stroke-width="0.9"/>
<line x1="646.05" y1="311.50" x2="651.25" y2="311.50" stroke="#111" stroke-width="0.9"/>
<line x1="593.00" y1="302.30" x2="593.00" y2="368.50" stroke="#1a1a1a" stroke-width="1.0"/>
<line x1="590.20" y1="368.00" x2="659.60" y2="368.00" stroke="#1a1a1a" stroke-width="1.0"/>
<line x1="590.60" y1="302.80" x2="593.00" y2="302.80" stroke="#1a1a1a" stroke-width="1.0"/>
<text x="589.30" y="304.75" font-family='"Liberation Serif", serif' font-size="5.0" font-weight="bold" text-anchor="end" fill="#000" stroke="#000" stroke-width="0.15">150000</text>
<line x1="590.60" y1="324.53" x2="593.00" y2="324.53" stroke="#1a1a1a" stroke-width="1.0"/>
<text x="589.30" y="326.48" font-family='"Liberation Serif", serif' font-size="5.0" font-weight="bold" text-anchor="end" fill="#000" stroke="#000" stroke-width="0.15">100000</text>
<line x1="590.60" y1="346.27" x2="593.00" y2="346.27" stroke="#1a1a1a" stroke-width="1.0"/>
<text x="589.30" y="348.22" font-family='"Liberation Serif", serif' font-size="5.0" font-weight="bold" text-anchor="end" fill="#000" stroke="#000" stroke-width="0.15">50000</text>
<line x1="590.60" y1="368.00" x2="593.00" y2="368.00" stroke="#1a1a1a" stroke-width="1.0"/>
<text x="589.30" y="369.95" font-family='"Liberation Serif", serif' font-size="5.0" font-weight="bold" text-anchor="end" fill="#000" stroke="#000" stroke-width="0.15">0</text>
<line x1="603.15" y1="368.00" x2="603.15" y2="370.70" stroke="#1a1a1a" stroke-width="1.0"/>
<text x="603.15" y="376.70" font-family='"Liberation Serif", serif' font-size="5.0" font-weight="bold" text-anchor="middle" fill="#000" stroke="#000" stroke-width="0.15">0.0</text>
<line x1="618.45" y1="368.00" x2="618.45" y2="370.70" stroke="#1a1a1a" stroke-width="1.0"/>
<text x="618.45" y="376.70" font-family='"Liberation Serif", serif' font-size="5.0" font-weight="bold" text-anchor="middle" fill="#000" stroke="#000" stroke-width="0.15">0.25</text>
<line x1="633.55" y1="368.00" x2="633.55" y2="370.70" stroke="#1a1a1a" stroke-width="1.0"/>
<text x="633.55" y="376.70" font-family='"Liberation Serif", serif' font-size="5.0" font-weight="bold" text-anchor="middle" fill="#000" stroke="#000" stroke-width="0.15">0.5</text>
<line x1="648.65" y1="368.00" x2="648.65" y2="370.70" stroke="#1a1a1a" stroke-width="1.0"/>
<text x="648.65" y="376.70" font-family='"Liberation Serif", serif' font-size="5.0" font-weight="bold" text-anchor="middle" fill="#000" stroke="#000" stroke-width="0.15">1.0</text>
<polyline points="602.50,307.90 602.50,304.90 649.50,304.90 649.50,307.90" fill="none" stroke="#6a6a6a" stroke-width="0.8"/>
<text x="626.30" y="304.05" font-family='"Liberation Serif", serif' font-size="5" font-weight="bold" text-anchor="middle" fill="#222" stroke="#222" stroke-width="0.1">*</text>
<polyline points="602.50,314.80 602.50,311.80 635.10,311.80 635.10,314.80" fill="none" stroke="#6a6a6a" stroke-width="0.8"/>
<text x="620.10" y="312.15" font-family='"Liberation Serif", serif' font-size="5" font-weight="bold" text-anchor="middle" fill="#222" stroke="#222" stroke-width="0.1">*</text>
<polyline points="602.50,322.10 602.50,319.10 619.00,319.10 619.00,322.10" fill="none" stroke="#6a6a6a" stroke-width="0.8"/>
<text x="612.20" y="319.95" font-family='"Liberation Serif", serif' font-size="5" font-weight="bold" text-anchor="middle" fill="#222" stroke="#222" stroke-width="0.1">*</text>
<text x="626.10" y="385.10" font-family='"Liberation Serif", serif' font-size="5.4" font-weight="bold" text-anchor="middle" fill="#000" stroke="#000" stroke-width="0.15">Concentration(mM)</text>
<text x="571.20" y="336.00" font-family='"Liberation Serif", serif' font-size="5.4" font-weight="bold" text-anchor="middle" fill="#000" transform="rotate(-90 571.20 336.00)" letter-spacing="0.5" stroke="#000" stroke-width="0.15">ROS( MeanX)</text>
<rect x="446.10" y="199.50" width="75.40" height="74.30" fill="#fff" stroke="#9c9c9c" stroke-width="0.8"/>
<path d="M446.50,229.50 C448.34,229.50 455.84,229.52 458.00,229.50 C460.16,229.48 459.20,229.64 460.00,229.40 C460.80,229.16 462.17,229.04 463.00,228.00 C463.83,226.96 464.50,226.07 465.20,222.90 C465.90,219.73 466.74,211.54 467.40,208.20 C468.06,204.86 468.60,202.70 469.30,202.00 C470.00,201.30 471.05,202.10 471.80,203.80 C472.55,205.50 473.18,209.90 474.00,212.60 C474.82,215.30 475.84,218.59 476.90,220.70 C477.96,222.81 479.19,224.70 480.60,225.80 C482.01,226.90 483.48,227.18 485.70,227.60 C487.92,228.02 492.15,228.27 494.50,228.40 C496.85,228.53 499.10,228.22 500.40,228.40 C501.70,228.58 501.70,229.32 502.60,229.50 C503.50,229.68 503.04,229.50 506.00,229.50 C508.96,229.50 518.68,229.50 521.10,229.50 Z" fill="#d4efd4" fill-opacity="0.5" stroke="none"/>
<path d="M446.50,229.50 C448.34,229.50 455.84,229.52 458.00,229.50 C460.16,229.48 459.20,229.64 460.00,229.40 C460.80,229.16 462.17,229.04 463.00,228.00 C463.83,226.96 464.50,226.07 465.20,222.90 C465.90,219.73 466.74,211.54 467.40,208.20 C468.06,204.86 468.60,202.70 469.30,202.00 C470.00,201.30 471.05,202.10 471.80,203.80 C472.55,205.50 473.18,209.90 474.00,212.60 C474.82,215.30 475.84,218.59 476.90,220.70 C477.96,222.81 479.19,224.70 480.60,225.80 C482.01,226.90 483.48,227.18 485.70,227.60 C487.92,228.02 492.15,228.27 494.50,228.40 C496.85,228.53 499.10,228.22 500.40,228.40 C501.70,228.58 501.70,229.32 502.60,229.50 C503.50,229.68 503.04,229.50 506.00,229.50 C508.96,229.50 518.68,229.50 521.10,229.50" fill="none" stroke="#4fb054" stroke-width="0.62" stroke-linejoin="round"/>
<path d="M446.50,244.40 C448.34,244.40 455.84,244.42 458.00,244.40 C460.16,244.38 459.20,244.65 460.00,244.30 C460.80,243.95 462.17,244.22 463.00,242.20 C463.83,240.18 464.50,235.27 465.20,231.70 C465.90,228.13 466.65,222.20 467.40,219.90 C468.15,217.60 469.20,217.41 469.90,217.30 C470.60,217.19 471.14,217.73 471.80,219.20 C472.46,220.67 473.18,224.63 474.00,226.50 C474.82,228.37 475.84,229.60 476.90,230.90 C477.96,232.20 479.19,233.42 480.60,234.60 C482.01,235.78 483.94,237.55 485.70,238.30 C487.46,239.05 489.95,238.84 491.60,239.30 C493.25,239.76 494.72,240.83 496.00,241.20 C497.28,241.57 498.67,241.25 499.60,241.60 C500.53,241.95 501.21,242.95 501.80,243.40 C502.39,243.85 502.47,244.24 503.30,244.40 C504.13,244.56 504.15,244.40 507.00,244.40 C509.85,244.40 518.84,244.40 521.10,244.40 Z" fill="#f6d9d9" fill-opacity="0.5" stroke="none"/>
<path d="M446.50,244.40 C448.34,244.40 455.84,244.42 458.00,244.40 C460.16,244.38 459.20,244.65 460.00,244.30 C460.80,243.95 462.17,244.22 463.00,242.20 C463.83,240.18 464.50,235.27 465.20,231.70 C465.90,228.13 466.65,222.20 467.40,219.90 C468.15,217.60 469.20,217.41 469.90,217.30 C470.60,217.19 471.14,217.73 471.80,219.20 C472.46,220.67 473.18,224.63 474.00,226.50 C474.82,228.37 475.84,229.60 476.90,230.90 C477.96,232.20 479.19,233.42 480.60,234.60 C482.01,235.78 483.94,237.55 485.70,238.30 C487.46,239.05 489.95,238.84 491.60,239.30 C493.25,239.76 494.72,240.83 496.00,241.20 C497.28,241.57 498.67,241.25 499.60,241.60 C500.53,241.95 501.21,242.95 501.80,243.40 C502.39,243.85 502.47,244.24 503.30,244.40 C504.13,244.56 504.15,244.40 507.00,244.40 C509.85,244.40 518.84,244.40 521.10,244.40" fill="none" stroke="#d05a5e" stroke-width="0.62" stroke-linejoin="round"/>
<path d="M446.50,259.20 C448.50,259.20 456.60,259.22 459.00,259.20 C461.40,259.18 460.51,259.45 461.50,259.10 C462.49,258.75 464.26,258.50 465.20,257.00 C466.14,255.50 466.74,252.52 467.40,249.70 C468.06,246.88 468.48,242.22 469.30,239.40 C470.12,236.58 471.51,232.34 472.50,232.10 C473.49,231.86 474.56,236.03 475.50,237.90 C476.44,239.77 477.23,242.04 478.40,243.80 C479.57,245.56 481.15,247.44 482.80,248.90 C484.45,250.36 486.83,252.07 488.70,252.90 C490.57,253.73 492.63,253.75 494.50,254.10 C496.37,254.45 498.99,254.52 500.40,255.10 C501.81,255.68 502.37,257.04 503.30,257.70 C504.23,258.36 505.29,258.96 506.20,259.20 C507.11,259.44 506.62,259.20 509.00,259.20 C511.38,259.20 519.16,259.20 521.10,259.20 Z" fill="#f8ebc8" fill-opacity="0.5" stroke="none"/>
<path d="M446.50,259.20 C448.50,259.20 456.60,259.22 459.00,259.20 C461.40,259.18 460.51,259.45 461.50,259.10 C462.49,258.75 464.26,258.50 465.20,257.00 C466.14,255.50 466.74,252.52 467.40,249.70 C468.06,246.88 468.48,242.22 469.30,239.40 C470.12,236.58 471.51,232.34 472.50,232.10 C473.49,231.86 474.56,236.03 475.50,237.90 C476.44,239.77 477.23,242.04 478.40,243.80 C479.57,245.56 481.15,247.44 482.80,248.90 C484.45,250.36 486.83,252.07 488.70,252.90 C490.57,253.73 492.63,253.75 494.50,254.10 C496.37,254.45 498.99,254.52 500.40,255.10 C501.81,255.68 502.37,257.04 503.30,257.70 C504.23,258.36 505.29,258.96 506.20,259.20 C507.11,259.44 506.62,259.20 509.00,259.20 C511.38,259.20 519.16,259.20 521.10,259.20" fill="none" stroke="#dca430" stroke-width="0.62" stroke-linejoin="round"/>
<path d="M446.50,273.90 C449.30,273.90 460.90,273.92 464.00,273.90 C467.10,273.88 465.12,274.04 465.90,273.80 C466.68,273.56 467.96,273.33 468.90,272.40 C469.84,271.47 470.98,269.06 471.80,268.00 C472.62,266.94 473.18,266.22 474.00,265.80 C474.82,265.38 475.84,265.51 476.90,265.40 C477.96,265.29 479.66,265.39 480.60,265.10 C481.54,264.81 481.98,264.08 482.80,263.60 C483.62,263.12 484.64,262.64 485.70,262.10 C486.76,261.56 488.46,261.02 489.40,260.20 C490.34,259.38 490.78,258.10 491.60,257.00 C492.42,255.90 493.80,254.60 494.50,253.30 C495.20,252.00 495.54,249.96 496.00,248.90 C496.46,247.84 496.98,246.57 497.40,246.70 C497.82,246.83 498.12,247.81 498.60,249.70 C499.08,251.59 499.76,255.33 500.40,258.50 C501.04,261.67 501.90,267.05 502.60,269.50 C503.30,271.95 504.26,273.10 504.80,273.80 C505.34,274.50 503.39,273.88 506.00,273.90 C508.61,273.92 518.68,273.90 521.10,273.90 Z" fill="#d9d9f2" fill-opacity="0.5" stroke="none"/>
<path d="M464.00,273.90 C464.30,273.88 465.12,274.04 465.90,273.80 C466.68,273.56 467.96,273.33 468.90,272.40 C469.84,271.47 470.98,269.06 471.80,268.00 C472.62,266.94 473.18,266.22 474.00,265.80 C474.82,265.38 475.84,265.51 476.90,265.40 C477.96,265.29 479.66,265.39 480.60,265.10 C481.54,264.81 481.98,264.08 482.80,263.60 C483.62,263.12 484.64,262.64 485.70,262.10 C486.76,261.56 488.46,261.02 489.40,260.20 C490.34,259.38 490.78,258.10 491.60,257.00 C492.42,255.90 493.80,254.60 494.50,253.30 C495.20,252.00 495.54,249.96 496.00,248.90 C496.46,247.84 496.98,246.57 497.40,246.70 C497.82,246.83 498.12,247.81 498.60,249.70 C499.08,251.59 499.76,255.33 500.40,258.50 C501.04,261.67 501.90,267.05 502.60,269.50 C503.30,271.95 504.26,273.10 504.80,273.80 C505.34,274.50 505.81,273.88 506.00,273.90" fill="none" stroke="#5a5ac4" stroke-width="0.62" stroke-linejoin="round"/>
<rect x="446.10" y="199.50" width="75.40" height="74.30" fill="none" stroke="#9c9c9c" stroke-width="0.8"/>
<line x1="444.80" y1="274.10" x2="446.10" y2="274.10" stroke="#666" stroke-width="0.5"/>
<text x="442.60" y="274.10" font-family='"Liberation Sans", sans-serif' font-size="4.1" font-weight="normal" text-anchor="middle" fill="#2a2a2a" transform="rotate(-90 442.60 274.10)" stroke="#2a2a2a" stroke-width="0.1">0</text>
<line x1="444.80" y1="260.50" x2="446.10" y2="260.50" stroke="#666" stroke-width="0.5"/>
<text x="442.60" y="260.50" font-family='"Liberation Sans", sans-serif' font-size="4.1" font-weight="normal" text-anchor="middle" fill="#2a2a2a" transform="rotate(-90 442.60 260.50)" stroke="#2a2a2a" stroke-width="0.1">20</text>
<line x1="444.80" y1="246.90" x2="446.10" y2="246.90" stroke="#666" stroke-width="0.5"/>
<text x="442.60" y="246.90" font-family='"Liberation Sans", sans-serif' font-size="4.1" font-weight="normal" text-anchor="middle" fill="#2a2a2a" transform="rotate(-90 442.60 246.90)" stroke="#2a2a2a" stroke-width="0.1">40</text>
<line x1="444.80" y1="233.30" x2="446.10" y2="233.30" stroke="#666" stroke-width="0.5"/>
<text x="442.60" y="233.30" font-family='"Liberation Sans", sans-serif' font-size="4.1" font-weight="normal" text-anchor="middle" fill="#2a2a2a" transform="rotate(-90 442.60 233.30)" stroke="#2a2a2a" stroke-width="0.1">60</text>
<line x1="444.80" y1="219.70" x2="446.10" y2="219.70" stroke="#666" stroke-width="0.5"/>
<text x="442.60" y="219.70" font-family='"Liberation Sans", sans-serif' font-size="4.1" font-weight="normal" text-anchor="middle" fill="#2a2a2a" transform="rotate(-90 442.60 219.70)" stroke="#2a2a2a" stroke-width="0.1">80</text>
<line x1="444.80" y1="206.10" x2="446.10" y2="206.10" stroke="#666" stroke-width="0.5"/>
<text x="442.60" y="206.10" font-family='"Liberation Sans", sans-serif' font-size="4.1" font-weight="normal" text-anchor="middle" fill="#2a2a2a" transform="rotate(-90 442.60 206.10)" stroke="#2a2a2a" stroke-width="0.1">100</text>
<text x="435.70" y="236.80" font-family='"Liberation Sans", sans-serif' font-size="4.3" font-weight="normal" text-anchor="middle" fill="#2a2a2a" transform="rotate(-90 435.70 236.80)" stroke="#2a2a2a" stroke-width="0.1">Count (%)</text>
<line x1="446.10" y1="273.80" x2="446.10" y2="275.00" stroke="#666" stroke-width="0.5"/>
<text x="448.20" y="280.80" font-family='"Liberation Sans", sans-serif' font-size="4.1" text-anchor="middle" fill="#2a2a2a" stroke="#2a2a2a" stroke-width="0.1">10<tspan dy="-1.4" font-size="3.5">0.9</tspan></text>
<line x1="460.70" y1="273.80" x2="460.70" y2="275.00" stroke="#666" stroke-width="0.5"/>
<text x="460.80" y="280.80" font-family='"Liberation Sans", sans-serif' font-size="4.1" text-anchor="middle" fill="#2a2a2a" stroke="#2a2a2a" stroke-width="0.1">10<tspan dy="-1.4" font-size="3.5">2</tspan></text>
<line x1="473.90" y1="273.80" x2="473.90" y2="275.00" stroke="#666" stroke-width="0.5"/>
<text x="475.00" y="280.80" font-family='"Liberation Sans", sans-serif' font-size="4.1" text-anchor="middle" fill="#2a2a2a" stroke="#2a2a2a" stroke-width="0.1">10<tspan dy="-1.4" font-size="3.5">3</tspan></text>
<line x1="487.20" y1="273.80" x2="487.20" y2="275.00" stroke="#666" stroke-width="0.5"/>
<text x="487.60" y="280.80" font-family='"Liberation Sans", sans-serif' font-size="4.1" text-anchor="middle" fill="#2a2a2a" stroke="#2a2a2a" stroke-width="0.1">10<tspan dy="-1.4" font-size="3.5">4</tspan></text>
<line x1="500.40" y1="273.80" x2="500.40" y2="275.00" stroke="#666" stroke-width="0.5"/>
<text x="500.30" y="280.80" font-family='"Liberation Sans", sans-serif' font-size="4.1" text-anchor="middle" fill="#2a2a2a" stroke="#2a2a2a" stroke-width="0.1">10<tspan dy="-1.4" font-size="3.5">5</tspan></text>
<line x1="521.60" y1="273.80" x2="521.60" y2="275.00" stroke="#666" stroke-width="0.5"/>
<text x="521.10" y="280.80" font-family='"Liberation Sans", sans-serif' font-size="4.1" text-anchor="middle" fill="#2a2a2a" stroke="#2a2a2a" stroke-width="0.1">10<tspan dy="-1.4" font-size="3.5">6.6</tspan></text>
<text x="483.50" y="288.10" font-family='"Liberation Sans", sans-serif' font-size="4.1" font-weight="normal" text-anchor="middle" fill="#2a2a2a" stroke="#2a2a2a" stroke-width="0.1">DCF-H</text>
<rect x="494.50" y="204.80" width="8.90" height="2.6" rx="0.2" fill="#d4efd4" fill-opacity="0.45" stroke="#4fb054" stroke-opacity="0.85" stroke-width="0.7"/>
<text x="505.70" y="207.65" font-family='"Liberation Sans", sans-serif' font-size="4.3" font-weight="normal" text-anchor="start" fill="#2a2a2a" stroke="#2a2a2a" stroke-width="0.1">0</text>
<rect x="494.50" y="210.75" width="8.90" height="2.6" rx="0.2" fill="#f6d9d9" fill-opacity="0.45" stroke="#d05a5e" stroke-opacity="0.85" stroke-width="0.7"/>
<text x="505.70" y="213.60" font-family='"Liberation Sans", sans-serif' font-size="4.3" font-weight="normal" text-anchor="start" fill="#2a2a2a" stroke="#2a2a2a" stroke-width="0.1">0.25</text>
<rect x="494.50" y="216.70" width="8.90" height="2.6" rx="0.2" fill="#f8ebc8" fill-opacity="0.45" stroke="#dca430" stroke-opacity="0.85" stroke-width="0.7"/>
<text x="505.70" y="219.55" font-family='"Liberation Sans", sans-serif' font-size="4.3" font-weight="normal" text-anchor="start" fill="#2a2a2a" stroke="#2a2a2a" stroke-width="0.1">0.5</text>
<rect x="494.50" y="222.65" width="8.90" height="2.6" rx="0.2" fill="#d9d9f2" fill-opacity="0.45" stroke="#5a5ac4" stroke-opacity="0.85" stroke-width="0.7"/>
<text x="505.70" y="225.50" font-family='"Liberation Sans", sans-serif' font-size="4.3" font-weight="normal" text-anchor="start" fill="#2a2a2a" stroke="#2a2a2a" stroke-width="0.1">1</text>
<text x="415.90" y="239.90" font-family='"Liberation Serif", serif' font-size="7.3" font-weight="bold" text-anchor="middle" fill="#000" transform="rotate(-90 415.90 239.90)" stroke="#000" stroke-width="0.12">MG63</text>
<rect x="446.10" y="300.10" width="75.40" height="74.80" fill="#fff" stroke="#9c9c9c" stroke-width="0.8"/>
<path d="M446.50,330.30 C447.86,330.30 453.30,330.32 455.00,330.30 C456.70,330.28 456.28,330.57 457.10,330.20 C457.92,329.83 459.27,328.77 460.10,328.00 C460.93,327.23 461.60,325.46 462.30,325.40 C463.00,325.34 463.57,326.83 464.50,327.60 C465.43,328.37 466.90,329.77 468.10,330.20 C469.30,330.63 470.35,330.28 472.00,330.30 C473.65,330.32 476.80,330.60 478.40,330.30 C480.00,330.00 481.06,329.82 482.00,328.40 C482.94,326.98 483.58,324.17 484.30,321.40 C485.02,318.63 485.84,313.87 486.50,311.10 C487.16,308.33 487.94,305.33 488.40,304.10 C488.86,302.87 489.00,303.21 489.40,303.40 C489.80,303.59 490.32,303.59 490.90,305.30 C491.48,307.01 492.31,311.06 493.00,314.10 C493.69,317.14 494.50,321.84 495.20,324.30 C495.90,326.76 496.70,328.54 497.40,329.50 C498.10,330.46 498.70,330.17 499.60,330.30 C500.50,330.43 499.56,330.30 503.00,330.30 C506.44,330.30 518.20,330.30 521.10,330.30 Z" fill="#d4efd4" fill-opacity="0.5" stroke="none"/>
<path d="M446.50,330.30 C447.86,330.30 453.30,330.32 455.00,330.30 C456.70,330.28 456.28,330.57 457.10,330.20 C457.92,329.83 459.27,328.77 460.10,328.00 C460.93,327.23 461.60,325.46 462.30,325.40 C463.00,325.34 463.57,326.83 464.50,327.60 C465.43,328.37 466.90,329.77 468.10,330.20 C469.30,330.63 470.35,330.28 472.00,330.30 C473.65,330.32 476.80,330.60 478.40,330.30 C480.00,330.00 481.06,329.82 482.00,328.40 C482.94,326.98 483.58,324.17 484.30,321.40 C485.02,318.63 485.84,313.87 486.50,311.10 C487.16,308.33 487.94,305.33 488.40,304.10 C488.86,302.87 489.00,303.21 489.40,303.40 C489.80,303.59 490.32,303.59 490.90,305.30 C491.48,307.01 492.31,311.06 493.00,314.10 C493.69,317.14 494.50,321.84 495.20,324.30 C495.90,326.76 496.70,328.54 497.40,329.50 C498.10,330.46 498.70,330.17 499.60,330.30 C500.50,330.43 499.56,330.30 503.00,330.30 C506.44,330.30 518.20,330.30 521.10,330.30" fill="none" stroke="#4fb054" stroke-width="0.62" stroke-linejoin="round"/>
<path d="M446.50,345.30 C451.38,345.30 471.66,345.32 477.00,345.30 C482.34,345.28 478.97,345.62 479.90,345.20 C480.83,344.78 481.87,344.04 482.80,342.70 C483.73,341.36 484.88,339.26 485.70,336.80 C486.52,334.34 487.24,330.12 487.90,327.30 C488.56,324.48 489.32,320.69 489.80,319.20 C490.28,317.71 490.50,317.76 490.90,318.00 C491.30,318.24 491.72,318.75 492.30,320.70 C492.88,322.65 493.80,327.03 494.50,330.20 C495.20,333.37 496.00,338.15 496.70,340.50 C497.40,342.85 498.31,344.13 498.90,344.90 C499.49,345.67 499.74,345.24 500.40,345.30 C501.06,345.36 499.69,345.30 503.00,345.30 C506.31,345.30 518.20,345.30 521.10,345.30 Z" fill="#f6d9d9" fill-opacity="0.5" stroke="none"/>
<path d="M446.50,345.30 C451.38,345.30 471.66,345.32 477.00,345.30 C482.34,345.28 478.97,345.62 479.90,345.20 C480.83,344.78 481.87,344.04 482.80,342.70 C483.73,341.36 484.88,339.26 485.70,336.80 C486.52,334.34 487.24,330.12 487.90,327.30 C488.56,324.48 489.32,320.69 489.80,319.20 C490.28,317.71 490.50,317.76 490.90,318.00 C491.30,318.24 491.72,318.75 492.30,320.70 C492.88,322.65 493.80,327.03 494.50,330.20 C495.20,333.37 496.00,338.15 496.70,340.50 C497.40,342.85 498.31,344.13 498.90,344.90 C499.49,345.67 499.74,345.24 500.40,345.30 C501.06,345.36 499.69,345.30 503.00,345.30 C506.31,345.30 518.20,345.30 521.10,345.30" fill="none" stroke="#d05a5e" stroke-width="0.62" stroke-linejoin="round"/>
<path d="M446.50,360.30 C449.30,360.30 460.77,360.41 464.00,360.30 C467.23,360.19 465.90,359.60 466.70,359.60 C467.50,359.60 467.51,360.19 469.00,360.30 C470.49,360.41 474.50,360.32 476.00,360.30 C477.50,360.28 477.55,360.50 478.40,360.20 C479.25,359.90 480.48,359.39 481.30,358.40 C482.12,357.41 482.80,356.35 483.50,354.00 C484.20,351.65 485.00,346.28 485.70,343.70 C486.40,341.12 487.07,339.31 487.90,337.90 C488.73,336.49 490.08,335.60 490.90,334.90 C491.72,334.20 492.42,333.26 493.00,333.50 C493.58,333.74 494.02,334.77 494.50,336.40 C494.98,338.03 495.41,340.64 496.00,343.70 C496.59,346.76 497.50,352.96 498.20,355.50 C498.90,358.04 499.70,358.83 500.40,359.60 C501.10,360.37 501.86,360.19 502.60,360.30 C503.34,360.41 502.04,360.30 505.00,360.30 C507.96,360.30 518.52,360.30 521.10,360.30 Z" fill="#f8ebc8" fill-opacity="0.5" stroke="none"/>
<path d="M446.50,360.30 C449.30,360.30 460.77,360.41 464.00,360.30 C467.23,360.19 465.90,359.60 466.70,359.60 C467.50,359.60 467.51,360.19 469.00,360.30 C470.49,360.41 474.50,360.32 476.00,360.30 C477.50,360.28 477.55,360.50 478.40,360.20 C479.25,359.90 480.48,359.39 481.30,358.40 C482.12,357.41 482.80,356.35 483.50,354.00 C484.20,351.65 485.00,346.28 485.70,343.70 C486.40,341.12 487.07,339.31 487.90,337.90 C488.73,336.49 490.08,335.60 490.90,334.90 C491.72,334.20 492.42,333.26 493.00,333.50 C493.58,333.74 494.02,334.77 494.50,336.40 C494.98,338.03 495.41,340.64 496.00,343.70 C496.59,346.76 497.50,352.96 498.20,355.50 C498.90,358.04 499.70,358.83 500.40,359.60 C501.10,360.37 501.86,360.19 502.60,360.30 C503.34,360.41 502.04,360.30 505.00,360.30 C507.96,360.30 518.52,360.30 521.10,360.30" fill="none" stroke="#dca430" stroke-width="0.62" stroke-linejoin="round"/>
<path d="M446.50,375.00 C452.02,375.00 475.08,375.03 481.00,375.00 C486.92,374.97 482.75,375.34 483.50,374.80 C484.25,374.26 485.00,373.76 485.70,371.60 C486.40,369.44 487.20,364.58 487.90,361.30 C488.60,358.02 489.40,353.02 490.10,351.10 C490.80,349.18 491.66,349.78 492.30,349.30 C492.94,348.82 493.64,347.70 494.10,348.10 C494.56,348.50 494.78,349.69 495.20,351.80 C495.62,353.91 496.16,358.13 496.70,361.30 C497.24,364.47 498.01,369.44 498.60,371.60 C499.19,373.76 499.86,374.26 500.40,374.80 C500.94,375.34 498.69,374.97 502.00,375.00 C505.31,375.03 518.04,375.00 521.10,375.00 Z" fill="#d9d9f2" fill-opacity="0.5" stroke="none"/>
<path d="M481.00,375.00 C481.40,374.97 482.75,375.34 483.50,374.80 C484.25,374.26 485.00,373.76 485.70,371.60 C486.40,369.44 487.20,364.58 487.90,361.30 C488.60,358.02 489.40,353.02 490.10,351.10 C490.80,349.18 491.66,349.78 492.30,349.30 C492.94,348.82 493.64,347.70 494.10,348.10 C494.56,348.50 494.78,349.69 495.20,351.80 C495.62,353.91 496.16,358.13 496.70,361.30 C497.24,364.47 498.01,369.44 498.60,371.60 C499.19,373.76 499.86,374.26 500.40,374.80 C500.94,375.34 501.74,374.97 502.00,375.00" fill="none" stroke="#5a5ac4" stroke-width="0.62" stroke-linejoin="round"/>
<rect x="446.10" y="300.10" width="75.40" height="74.80" fill="none" stroke="#9c9c9c" stroke-width="0.8"/>
<line x1="444.80" y1="375.10" x2="446.10" y2="375.10" stroke="#666" stroke-width="0.5"/>
<text x="442.60" y="375.10" font-family='"Liberation Sans", sans-serif' font-size="4.1" font-weight="normal" text-anchor="middle" fill="#2a2a2a" transform="rotate(-90 442.60 375.10)" stroke="#2a2a2a" stroke-width="0.1">0</text>
<line x1="444.80" y1="361.35" x2="446.10" y2="361.35" stroke="#666" stroke-width="0.5"/>
<text x="442.60" y="361.35" font-family='"Liberation Sans", sans-serif' font-size="4.1" font-weight="normal" text-anchor="middle" fill="#2a2a2a" transform="rotate(-90 442.60 361.35)" stroke="#2a2a2a" stroke-width="0.1">20</text>
<line x1="444.80" y1="347.60" x2="446.10" y2="347.60" stroke="#666" stroke-width="0.5"/>
<text x="442.60" y="347.60" font-family='"Liberation Sans", sans-serif' font-size="4.1" font-weight="normal" text-anchor="middle" fill="#2a2a2a" transform="rotate(-90 442.60 347.60)" stroke="#2a2a2a" stroke-width="0.1">40</text>
<line x1="444.80" y1="333.85" x2="446.10" y2="333.85" stroke="#666" stroke-width="0.5"/>
<text x="442.60" y="333.85" font-family='"Liberation Sans", sans-serif' font-size="4.1" font-weight="normal" text-anchor="middle" fill="#2a2a2a" transform="rotate(-90 442.60 333.85)" stroke="#2a2a2a" stroke-width="0.1">60</text>
<line x1="444.80" y1="320.10" x2="446.10" y2="320.10" stroke="#666" stroke-width="0.5"/>
<text x="442.60" y="320.10" font-family='"Liberation Sans", sans-serif' font-size="4.1" font-weight="normal" text-anchor="middle" fill="#2a2a2a" transform="rotate(-90 442.60 320.10)" stroke="#2a2a2a" stroke-width="0.1">80</text>
<line x1="444.80" y1="306.35" x2="446.10" y2="306.35" stroke="#666" stroke-width="0.5"/>
<text x="442.60" y="306.35" font-family='"Liberation Sans", sans-serif' font-size="4.1" font-weight="normal" text-anchor="middle" fill="#2a2a2a" transform="rotate(-90 442.60 306.35)" stroke="#2a2a2a" stroke-width="0.1">100</text>
<text x="435.70" y="337.50" font-family='"Liberation Sans", sans-serif' font-size="4.3" font-weight="normal" text-anchor="middle" fill="#2a2a2a" transform="rotate(-90 435.70 337.50)" stroke="#2a2a2a" stroke-width="0.1">Count (%)</text>
<line x1="446.10" y1="374.90" x2="446.10" y2="376.10" stroke="#666" stroke-width="0.5"/>
<text x="446.90" y="381.90" font-family='"Liberation Sans", sans-serif' font-size="4.1" text-anchor="middle" fill="#2a2a2a" stroke="#2a2a2a" stroke-width="0.1">10<tspan dy="-1.4" font-size="3.5">2</tspan></text>
<line x1="461.00" y1="374.90" x2="461.00" y2="376.10" stroke="#666" stroke-width="0.5"/>
<text x="462.10" y="381.90" font-family='"Liberation Sans", sans-serif' font-size="4.1" text-anchor="middle" fill="#2a2a2a" stroke="#2a2a2a" stroke-width="0.1">10<tspan dy="-1.4" font-size="3.5">3</tspan></text>
<line x1="476.70" y1="374.90" x2="476.70" y2="376.10" stroke="#666" stroke-width="0.5"/>
<text x="477.90" y="381.90" font-family='"Liberation Sans", sans-serif' font-size="4.1" text-anchor="middle" fill="#2a2a2a" stroke="#2a2a2a" stroke-width="0.1">10<tspan dy="-1.4" font-size="3.5">4</tspan></text>
<line x1="492.40" y1="374.90" x2="492.40" y2="376.10" stroke="#666" stroke-width="0.5"/>
<text x="493.40" y="381.90" font-family='"Liberation Sans", sans-serif' font-size="4.1" text-anchor="middle" fill="#2a2a2a" stroke="#2a2a2a" stroke-width="0.1">10<tspan dy="-1.4" font-size="3.5">5</tspan></text>
<line x1="508.00" y1="374.90" x2="508.00" y2="376.10" stroke="#666" stroke-width="0.5"/>
<text x="508.40" y="381.90" font-family='"Liberation Sans", sans-serif' font-size="4.1" text-anchor="middle" fill="#2a2a2a" stroke="#2a2a2a" stroke-width="0.1">10<tspan dy="-1.4" font-size="3.5">6</tspan></text>
<line x1="521.60" y1="374.90" x2="521.60" y2="376.10" stroke="#666" stroke-width="0.5"/>
<text x="521.30" y="381.90" font-family='"Liberation Sans", sans-serif' font-size="4.1" text-anchor="middle" fill="#2a2a2a" stroke="#2a2a2a" stroke-width="0.1">10<tspan dy="-1.4" font-size="3.5">6.8</tspan></text>
<text x="483.50" y="389.20" font-family='"Liberation Sans", sans-serif' font-size="4.1" font-weight="normal" text-anchor="middle" fill="#2a2a2a" stroke="#2a2a2a" stroke-width="0.1">DCF-H</text>
<rect x="500.00" y="304.10" width="8.90" height="2.6" rx="0.2" fill="#d4efd4" fill-opacity="0.45" stroke="#4fb054" stroke-opacity="0.85" stroke-width="0.7"/>
<text x="511.20" y="306.95" font-family='"Liberation Sans", sans-serif' font-size="4.3" font-weight="normal" text-anchor="start" fill="#2a2a2a" stroke="#2a2a2a" stroke-width="0.1">0</text>
<rect x="500.00" y="309.97" width="8.90" height="2.6" rx="0.2" fill="#f6d9d9" fill-opacity="0.45" stroke="#d05a5e" stroke-opacity="0.85" stroke-width="0.7"/>
<text x="511.20" y="312.82" font-family='"Liberation Sans", sans-serif' font-size="4.3" font-weight="normal" text-anchor="start" fill="#2a2a2a" stroke="#2a2a2a" stroke-width="0.1">0.25</text>
<rect x="500.00" y="315.84" width="8.90" height="2.6" rx="0.2" fill="#f8ebc8" fill-opacity="0.45" stroke="#dca430" stroke-opacity="0.85" stroke-width="0.7"/>
<text x="511.20" y="318.69" font-family='"Liberation Sans", sans-serif' font-size="4.3" font-weight="normal" text-anchor="start" fill="#2a2a2a" stroke="#2a2a2a" stroke-width="0.1">0.5</text>
<rect x="500.00" y="321.71" width="8.90" height="2.6" rx="0.2" fill="#d9d9f2" fill-opacity="0.45" stroke="#5a5ac4" stroke-opacity="0.85" stroke-width="0.7"/>
<text x="511.20" y="324.56" font-family='"Liberation Sans", sans-serif' font-size="4.3" font-weight="normal" text-anchor="start" fill="#2a2a2a" stroke="#2a2a2a" stroke-width="0.1">1</text>
<text x="415.90" y="341.40" font-family='"Liberation Serif", serif' font-size="7.3" font-weight="bold" text-anchor="middle" fill="#000" transform="rotate(-90 415.90 341.40)" stroke="#000" stroke-width="0.12">U2OS</text>
<text x="0.50" y="10.00" font-family='"Liberation Serif", serif' font-size="14.3" font-weight="normal" text-anchor="start" fill="#000">A</text>
<text x="366.70" y="9.90" font-family='"Liberation Serif", serif' font-size="14.3" font-weight="normal" text-anchor="start" fill="#000">B</text>
<text x="0.50" y="195.10" font-family='"Liberation Serif", serif' font-size="14.3" font-weight="normal" text-anchor="start" fill="#000">C</text>
<text x="366.70" y="195.10" font-family='"Liberation Serif", serif' font-size="14.3" font-weight="normal" text-anchor="start" fill="#000">D</text>
</svg>
</body>
</html>
